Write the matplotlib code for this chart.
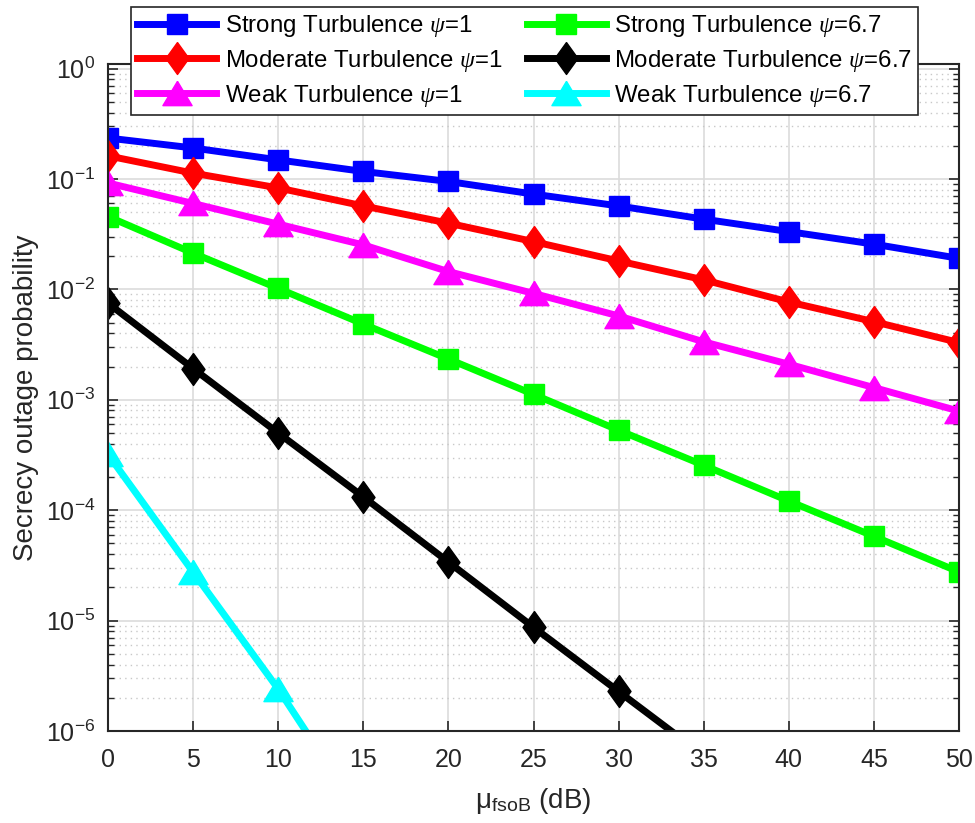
import matplotlib
matplotlib.use("Agg")
import matplotlib.pyplot as plt
import numpy as np

plt.rcParams['font.family'] = ['Liberation Sans', 'DejaVu Sans']
plt.rcParams['mathtext.fontset'] = 'custom'
plt.rcParams['mathtext.rm'] = 'Liberation Sans'
plt.rcParams['mathtext.it'] = 'Liberation Serif:italic'

# data (mu_fsoB in dB vs secrecy outage probability)
snr_db = [0, 5, 10, 15, 20, 25, 30, 35, 40, 45, 50]

strong_psi1 = [0.235, 0.191, 0.149, 0.117, 0.095, 0.073, 0.057, 0.0433, 0.0334, 0.0257, 0.0191]
moderate_psi1 = [0.162, 0.113, 0.083, 0.057, 0.0398, 0.0271, 0.0181, 0.0122, 0.0077, 0.0051, 0.0033]
weak_psi1 = [0.092, 0.060, 0.039, 0.0253, 0.0145, 0.0092, 0.00575, 0.00335, 0.0021, 0.00129, 0.00079]
strong_psi67 = [0.0457, 0.0213, 0.0102, 0.00485, 0.00234, 0.00112, 0.00053, 2.55e-4, 1.21e-4, 5.8e-5, 2.76e-5]
moderate_psi67 = [0.0075, 0.00192, 0.0005, 1.32e-4, 3.39e-5, 8.7e-6, 2.28e-6, 6.0e-7]
weak_psi67 = [3.2e-4, 2.75e-5, 2.4e-6, 1.6e-7]

labels = ['Strong Turbulence $\\psi$=1', 'Moderate Turbulence $\\psi$=1', 'Weak Turbulence $\\psi$=1',
          'Strong Turbulence $\\psi$=6.7', 'Moderate Turbulence $\\psi$=6.7', 'Weak Turbulence $\\psi$=6.7']

# MATLAB-like marker shapes
diamond = [(0, 1), (0.72, 0), (0, -1), (-0.72, 0), (0, 1)]
triangle = [(0, 1), (1.2, -1), (-1.2, -1), (0, 1)]

fig = plt.figure(figsize=(9.75, 8.23), dpi=100)
ax = fig.add_axes([0.1108, 0.1118, 0.8728, 0.8104])

lw = 5
series = [
    (strong_psi1, '#0000ff', 's', 14),
    (moderate_psi1, '#ff0000', diamond, 23),
    (weak_psi1, '#ff00ff', triangle, 21),
    (strong_psi67, '#00ff00', 's', 14),
    (moderate_psi67, '#000000', diamond, 23),
    (weak_psi67, '#00ffff', triangle, 21),
]
for (vals, c, m, ms), lab in zip(series, labels):
    ax.semilogy(snr_db[:len(vals)], vals, color=c, lw=lw, marker=m, ms=ms,
                mec=c, mfc=c, label=lab)

ax.set_xlim(0, 50)
ax.set_ylim(1e-6, 1.1)
ax.set_xticks(np.arange(0, 51, 5))
ax.set_yticks([1e-6, 1e-5, 1e-4, 1e-3, 1e-2, 1e-1, 1e0])

ax.grid(True, which='major', color='#dcdcdc', lw=1.2, ls='-')
ax.grid(True, which='minor', axis='y', color='#c8c8c8', lw=1.0, ls=(0, (1, 3)))
ax.set_axisbelow(True)

ax.tick_params(which='both', direction='in', top=True, right=True, labelsize=18,
               colors='#262626', pad=9)
ax.tick_params(axis='x', pad=12)
ax.tick_params(which='major', length=7, width=1.2)
ax.tick_params(which='minor', length=4, width=1.0)
for s in ax.spines.values():
    s.set_color('#262626')
    s.set_linewidth(1.5)

ax.set_xlabel('μ$_{\\mathregular{fsoB}}$ (dB)', fontsize=20, color='#262626', labelpad=10)
ax.set_ylabel('Secrecy outage probability', fontsize=20, color='#262626', labelpad=5)

leg = ax.legend(ncol=2, loc='upper center', bbox_to_anchor=(0.538, 1.0),
                bbox_transform=fig.transFigure, fontsize=17.3, handlelength=3.3,
                columnspacing=1.0, handletextpad=0.35, labelspacing=0.36,
                fancybox=False, framealpha=1, edgecolor='#262626', borderpad=0.25,
                borderaxespad=0.3)
leg.get_frame().set_linewidth(1.2)

fig.savefig('out.png', dpi=100)
